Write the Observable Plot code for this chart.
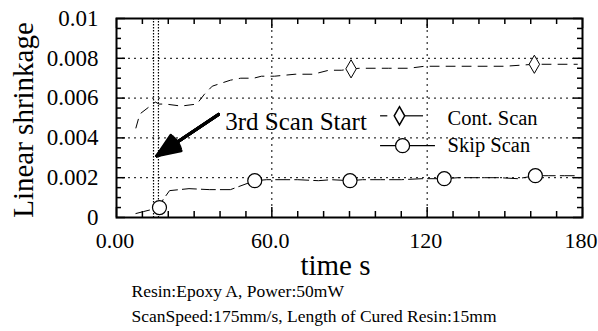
<!DOCTYPE html>
<html><head><meta charset="utf-8">
<script src="https://cdn.jsdelivr.net/npm/d3@7"></script>
<script src="https://cdn.jsdelivr.net/npm/@observablehq/plot@0.6"></script>
<style>body{margin:0;background:#fff} svg text{font-family:'Liberation Serif','Times New Roman',serif}</style>
</head><body><div id="chart"></div>
<script>
// ---- data ----
const contT = [7.5, 9, 15, 16.5, 19, 25, 31, 34, 37, 44, 48, 53, 56, 61, 69, 76, 82, 87, 90.6, 94, 100, 105, 113, 119, 126, 131, 137, 144, 150, 161.4, 168, 178];
const contY = [0.0045, 0.0052, 0.0058, 0.0057, 0.0057, 0.0056, 0.0057, 0.0062, 0.0066, 0.0069, 0.0070, 0.0070, 0.0071, 0.0071, 0.0072, 0.0072, 0.0074, 0.0074, 0.00747, 0.0075, 0.0075, 0.0075, 0.0075, 0.0076, 0.0076, 0.0076, 0.0076, 0.0076, 0.0076, 0.0077, 0.0077, 0.0077];
const contMarkT = [90.6, 161.4];
const contMarkY = [0.00747, 0.0077];
const skipT = [7.5, 10.5, 16.6, 18, 20.5, 28, 36, 44, 53.4, 58, 62, 70, 78, 83, 90.2, 95, 102, 110, 118, 126.6, 132, 140, 148, 155, 161.8, 167, 173, 178];
const skipY = [0.0002, 0.0003, 0.0005, 0.0009, 0.00135, 0.00145, 0.0014, 0.0014, 0.00185, 0.0019, 0.0019, 0.0019, 0.00185, 0.0019, 0.00185, 0.0019, 0.0019, 0.0019, 0.00195, 0.00195, 0.002, 0.002, 0.002, 0.00195, 0.0021, 0.0021, 0.0021, 0.0021];
const skipMarkT = [16.6, 53.4, 90.2, 126.6, 161.8];
const skipMarkY = [0.0005, 0.00185, 0.00185, 0.00195, 0.0021];
const seriesNames = ["Cont. Scan", "Skip Scan"];

const xMajor = [0, 60, 120, 180];
const xTickLabels = ["0.00", "60.0", "120", "180"];
const xMinor = d3.range(10, 180, 10).filter(v => v % 60 !== 0);
const yMajor = [0, 0.002, 0.004, 0.006, 0.008, 0.01];
const yTickLabels = ["0", "0.002", "0.004", "0.006", "0.008", "0.01"];
const yMinor = d3.range(0.0005, 0.01, 0.0005).filter(v => Math.abs(v / 0.002 - Math.round(v / 0.002)) > 1e-6);
const xGrid = [60, 120];
const yGrid = [0.002, 0.004, 0.006, 0.008];

const scanStartT = [14.3, 16.2];
const annText = "3rd Scan Start";
const annTextT = 42, annTextY = 0.00482;
const arrowFrom = {t: 39.4, y: 0.00518}, arrowTo = {t: 15.6, y: 0.0031};
const arrowHeadAngles = [44, 34, 24, 14, 6];

const xLabel = "time s";
const yLabel = "Linear shrinkage";
const captions = ["Resin:Epoxy A, Power:50mW", "ScanSpeed:175mm/s, Length of Cured Resin:15mm"];

// legend anchors (data units)
const legCont = {y: 0.00511, x1: 102, xm: 109.3, x2: 118.6, gap: [104.8, 106.2]};
const legSkip = {y: 0.00361, x1: 102, xm: 110.5, x2: 123.2};
const legTextT = 127.9;

// ---- build ----
const W = 598, H = 331;
const mT = 18, mB = 114, mL = 116, mR = 16;
const innerW = W - mL - mR, innerH = H - mT - mB;
const font = "Liberation Serif";

const cont = contT.map((t, i) => ({t, y: contY[i]}));
const skip = skipT.map((t, i) => ({t, y: skipY[i]}));
const contM = contMarkT.map((t, i) => ({t, y: contMarkY[i]}));
const skipM = skipMarkT.map((t, i) => ({t, y: skipMarkY[i]}));

const tickLenMinorX = 6, tickLenMajorX = 10, tickLenMinorY = 5, tickLenMajorY = 9;

const chart = Plot.plot({
  width: W, height: H,
  marginTop: mT, marginBottom: mB, marginLeft: mL, marginRight: mR,
  style: {fontFamily: font, background: "#fff", color: "#000"},
  x: {domain: [0, 180], label: null},
  y: {domain: [0, 0.01], label: null},
  marks: [
    Plot.gridX(xGrid, {stroke: "#000", strokeOpacity: 1, strokeDasharray: "2,4", strokeWidth: 1}),
    Plot.gridY(yGrid, {stroke: "#000", strokeOpacity: 1, strokeDasharray: "2,4", strokeWidth: 1}),
    Plot.ruleX(scanStartT, {x: d => d, stroke: "#000", strokeDasharray: "1.5,1.5", strokeWidth: 1.2}),
    // ticks (inward)
    Plot.tickX(xMinor, {x: d => d, insetTop: innerH - tickLenMinorX, strokeWidth: 1.5}),
    Plot.tickX(xMinor, {x: d => d, insetBottom: innerH - tickLenMinorX, strokeWidth: 1.5}),
    Plot.tickX(xMajor, {x: d => d, insetTop: innerH - tickLenMajorX, strokeWidth: 1.5}),
    Plot.tickX(xMajor, {x: d => d, insetBottom: innerH - tickLenMajorX, strokeWidth: 1.5}),
    Plot.tickY(yMinor, {y: d => d, insetRight: innerW - tickLenMinorY, strokeWidth: 1.5}),
    Plot.tickY(yMinor, {y: d => d, insetLeft: innerW - tickLenMinorY, strokeWidth: 1.5}),
    Plot.tickY(yMajor, {y: d => d, insetRight: innerW - tickLenMajorY, strokeWidth: 1.5}),
    Plot.tickY(yMajor, {y: d => d, insetLeft: innerW - tickLenMajorY, strokeWidth: 1.5}),
    // series
    Plot.line(cont, {x: "t", y: "y", stroke: "#000", strokeWidth: 1, strokeDasharray: "9,7"}),
    Plot.line(skip, {x: "t", y: "y", stroke: "#000", strokeWidth: 1, strokeDasharray: "14,5"}),
    Plot.dot(contM, {x: "t", y: "y", symbol: "diamond", r: 5.5, fill: "#fff", stroke: "#000", strokeWidth: 1}),
    Plot.dot(skipM, {x: "t", y: "y", symbol: "circle", r: 7, fill: "#fff", stroke: "#000", strokeWidth: 1.2}),
    // annotation (filled-looking head from several arrow heads)
    ...arrowHeadAngles.map(a => Plot.arrow([arrowFrom], {x1: "t", y1: "y", x2: () => arrowTo.t, y2: () => arrowTo.y, stroke: "#000", strokeWidth: 3, headLength: 20, headAngle: a})),
    Plot.text([annText], {x: () => annTextT, y: () => annTextY, text: d => d, textAnchor: "start", fontSize: 25, fontFamily: font, fill: "#000"}),
    // legend
    Plot.ruleY([legCont], {y: "y", x1: "x1", x2: d => d.gap[0], stroke: "#000", strokeWidth: 1.2}),
    Plot.ruleY([legCont], {y: "y", x1: d => d.gap[1] + 2.5, x2: "x2", stroke: "#000", strokeWidth: 1.2}),
    Plot.dot([legCont], {x: "xm", y: "y", symbol: "diamond", r: 5.5, fill: "#fff", stroke: "#000"}),
    Plot.ruleY([legSkip], {y: "y", x1: "x1", x2: "x2", stroke: "#000", strokeWidth: 1.2}),
    Plot.dot([legSkip], {x: "xm", y: "y", symbol: "circle", r: 7, fill: "#fff", stroke: "#000", strokeWidth: 1.2}),
    Plot.text([seriesNames[0]], {x: () => legTextT, y: () => legCont.y, dy: 3, text: d => d, textAnchor: "start", fontSize: 20.5, fontFamily: font, fill: "#000"}),
    Plot.text([seriesNames[1]], {x: () => legTextT, y: () => legSkip.y, dy: 0, text: d => d, textAnchor: "start", fontSize: 20.5, fontFamily: font, fill: "#000"}),
    // frame
    Plot.frame({stroke: "#000", strokeWidth: 2}),
    // axes labels
    Plot.axisX(xMajor, {tickSize: 0, tickPadding: 15, dx: -1.5, fontSize: 22, fontFamily: font, tickFormat: d => xTickLabels[xMajor.indexOf(d)], label: null}),
    Plot.axisY(yMajor, {tickSize: 0, tickPadding: 18, fontSize: 23, fontFamily: font, tickFormat: d => yTickLabels[yMajor.indexOf(d)], label: null}),
    Plot.text([xLabel], {frameAnchor: "bottom", text: d => d, dx: -14, dy: 37, lineAnchor: "top", fontSize: 29, fontFamily: font, fill: "#000"}),
    Plot.text([yLabel], {frameAnchor: "left", text: d => d, rotate: -90, dx: -93, dy: 2, lineAnchor: "middle", textAnchor: "middle", fontSize: 29, fontFamily: font, fill: "#000"}),
    Plot.text([captions[0]], {frameAnchor: "bottom-left", text: d => d, dx: 15, dy: 67, lineAnchor: "top", textAnchor: "start", fontSize: 17.5, fontFamily: font, fill: "#000"}),
    Plot.text([captions[1]], {frameAnchor: "bottom-left", text: d => d, dx: 15, dy: 92, lineAnchor: "top", textAnchor: "start", fontSize: 17.5, fontFamily: font, fill: "#000"})
  ]
});
document.getElementById("chart").appendChild(chart);
</script>
</body></html>
